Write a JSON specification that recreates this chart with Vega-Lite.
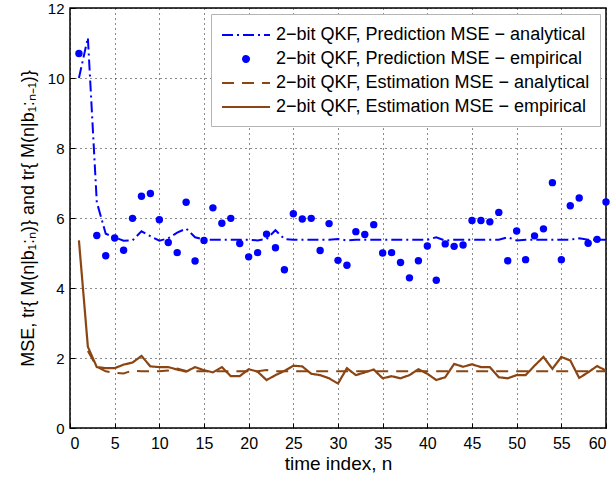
{
  "$schema": "https://vega.github.io/schema/vega-lite/v6.json",
  "width": 536,
  "height": 420,
  "autosize": {"type": "none"},
  "padding": {"left": 70, "top": 8, "right": 9, "bottom": 55},
  "background": "white",
  "config": {
    "font": "Liberation Sans",
    "view": {"stroke": "black", "strokeWidth": 1.5},
    "axis": {
      "labelFont": "Liberation Sans",
      "labelFontSize": 16,
      "labelColor": "black",
      "titleFont": "Liberation Sans",
      "titleFontSize": 18,
      "titleFontWeight": "normal",
      "titleColor": "black",
      "domain": false,
      "grid": true,
      "gridColor": "black",
      "gridDash": [1, 4],
      "gridOpacity": 0.9,
      "gridWidth": 1,
      "ticks": true,
      "tickColor": "black",
      "tickSize": -5,
      "tickWidth": 1
    },
    "legend": {
      "labelFont": "Liberation Sans",
      "labelFontSize": 18,
      "labelColor": "black",
      "labelLimit": 400
    }
  },
  "data": {"values": [
    {"s": "A", "n": 1, "v": 10.0}, {"s": "A", "n": 2, "v": 11.15}, {"s": "A", "n": 3, "v": 6.45}, {"s": "A", "n": 4, "v": 5.55}, {"s": "A", "n": 5, "v": 5.45},
    {"s": "A", "n": 6, "v": 5.35}, {"s": "A", "n": 7, "v": 5.36}, {"s": "A", "n": 8, "v": 5.62}, {"s": "A", "n": 9, "v": 5.48}, {"s": "A", "n": 10, "v": 5.35},
    {"s": "A", "n": 11, "v": 5.42}, {"s": "A", "n": 12, "v": 5.58}, {"s": "A", "n": 13, "v": 5.7}, {"s": "A", "n": 14, "v": 5.45}, {"s": "A", "n": 15, "v": 5.38},
    {"s": "A", "n": 16, "v": 5.38}, {"s": "A", "n": 17, "v": 5.38}, {"s": "A", "n": 18, "v": 5.38}, {"s": "A", "n": 19, "v": 5.38}, {"s": "A", "n": 20, "v": 5.38},
    {"s": "A", "n": 21, "v": 5.36}, {"s": "A", "n": 22, "v": 5.4}, {"s": "A", "n": 23, "v": 5.65}, {"s": "A", "n": 24, "v": 5.4}, {"s": "A", "n": 25, "v": 5.38},
    {"s": "A", "n": 26, "v": 5.38}, {"s": "A", "n": 27, "v": 5.38}, {"s": "A", "n": 28, "v": 5.38}, {"s": "A", "n": 29, "v": 5.38}, {"s": "A", "n": 30, "v": 5.4},
    {"s": "A", "n": 31, "v": 5.36}, {"s": "A", "n": 32, "v": 5.38}, {"s": "A", "n": 33, "v": 5.38}, {"s": "A", "n": 34, "v": 5.38}, {"s": "A", "n": 35, "v": 5.38},
    {"s": "A", "n": 36, "v": 5.38}, {"s": "A", "n": 37, "v": 5.38}, {"s": "A", "n": 38, "v": 5.38}, {"s": "A", "n": 39, "v": 5.38}, {"s": "A", "n": 40, "v": 5.38},
    {"s": "A", "n": 41, "v": 5.45}, {"s": "A", "n": 42, "v": 5.35}, {"s": "A", "n": 43, "v": 5.38}, {"s": "A", "n": 44, "v": 5.38}, {"s": "A", "n": 45, "v": 5.38},
    {"s": "A", "n": 46, "v": 5.38}, {"s": "A", "n": 47, "v": 5.38}, {"s": "A", "n": 48, "v": 5.38}, {"s": "A", "n": 49, "v": 5.45}, {"s": "A", "n": 50, "v": 5.36},
    {"s": "A", "n": 51, "v": 5.38}, {"s": "A", "n": 52, "v": 5.38}, {"s": "A", "n": 53, "v": 5.38}, {"s": "A", "n": 54, "v": 5.38}, {"s": "A", "n": 55, "v": 5.38},
    {"s": "A", "n": 56, "v": 5.38}, {"s": "A", "n": 57, "v": 5.42}, {"s": "A", "n": 58, "v": 5.38}, {"s": "A", "n": 59, "v": 5.38}, {"s": "A", "n": 60, "v": 5.38},
    {"s": "B", "n": 1, "v": 10.7}, {"s": "B", "n": 3, "v": 5.5}, {"s": "B", "n": 4, "v": 4.92}, {"s": "B", "n": 5, "v": 5.43},
    {"s": "B", "n": 6, "v": 5.08}, {"s": "B", "n": 7, "v": 5.99}, {"s": "B", "n": 8, "v": 6.62}, {"s": "B", "n": 9, "v": 6.7}, {"s": "B", "n": 10, "v": 5.95},
    {"s": "B", "n": 11, "v": 5.3}, {"s": "B", "n": 12, "v": 5.01}, {"s": "B", "n": 13, "v": 6.45}, {"s": "B", "n": 14, "v": 4.77}, {"s": "B", "n": 15, "v": 5.36},
    {"s": "B", "n": 16, "v": 6.29}, {"s": "B", "n": 17, "v": 5.85}, {"s": "B", "n": 18, "v": 5.99}, {"s": "B", "n": 19, "v": 5.27}, {"s": "B", "n": 20, "v": 4.89},
    {"s": "B", "n": 21, "v": 5.01}, {"s": "B", "n": 22, "v": 5.54}, {"s": "B", "n": 23, "v": 5.15}, {"s": "B", "n": 24, "v": 4.52}, {"s": "B", "n": 25, "v": 6.12},
    {"s": "B", "n": 26, "v": 5.97}, {"s": "B", "n": 27, "v": 5.99}, {"s": "B", "n": 28, "v": 5.07}, {"s": "B", "n": 29, "v": 5.84}, {"s": "B", "n": 30, "v": 4.79},
    {"s": "B", "n": 31, "v": 4.65}, {"s": "B", "n": 32, "v": 5.61}, {"s": "B", "n": 33, "v": 5.53}, {"s": "B", "n": 34, "v": 5.81}, {"s": "B", "n": 35, "v": 5.0},
    {"s": "B", "n": 36, "v": 5.01}, {"s": "B", "n": 37, "v": 4.73}, {"s": "B", "n": 38, "v": 4.29}, {"s": "B", "n": 39, "v": 4.78}, {"s": "B", "n": 40, "v": 5.2},
    {"s": "B", "n": 41, "v": 4.22}, {"s": "B", "n": 42, "v": 5.26}, {"s": "B", "n": 43, "v": 5.19}, {"s": "B", "n": 44, "v": 5.23}, {"s": "B", "n": 45, "v": 5.93},
    {"s": "B", "n": 46, "v": 5.93}, {"s": "B", "n": 47, "v": 5.89}, {"s": "B", "n": 48, "v": 6.16}, {"s": "B", "n": 49, "v": 4.78}, {"s": "B", "n": 50, "v": 5.63},
    {"s": "B", "n": 51, "v": 4.81}, {"s": "B", "n": 52, "v": 5.49}, {"s": "B", "n": 53, "v": 5.69}, {"s": "B", "n": 54, "v": 7.01}, {"s": "B", "n": 55, "v": 4.81},
    {"s": "B", "n": 56, "v": 6.35}, {"s": "B", "n": 57, "v": 6.57}, {"s": "B", "n": 58, "v": 5.28}, {"s": "B", "n": 59, "v": 5.39}, {"s": "B", "n": 60, "v": 6.46},
    {"s": "C", "n": 2, "v": 2.2}, {"s": "C", "n": 3, "v": 1.75}, {"s": "C", "n": 4, "v": 1.62}, {"s": "C", "n": 5, "v": 1.58},
    {"s": "C", "n": 6, "v": 1.56}, {"s": "C", "n": 7, "v": 1.64}, {"s": "C", "n": 8, "v": 1.62}, {"s": "C", "n": 9, "v": 1.62}, {"s": "C", "n": 10, "v": 1.62},
    {"s": "C", "n": 11, "v": 1.64}, {"s": "C", "n": 12, "v": 1.7}, {"s": "C", "n": 13, "v": 1.63}, {"s": "C", "n": 14, "v": 1.62}, {"s": "C", "n": 15, "v": 1.62},
    {"s": "C", "n": 16, "v": 1.62}, {"s": "C", "n": 17, "v": 1.62}, {"s": "C", "n": 18, "v": 1.62}, {"s": "C", "n": 19, "v": 1.62}, {"s": "C", "n": 20, "v": 1.62},
    {"s": "C", "n": 21, "v": 1.62}, {"s": "C", "n": 22, "v": 1.66}, {"s": "C", "n": 23, "v": 1.62}, {"s": "C", "n": 24, "v": 1.62}, {"s": "C", "n": 25, "v": 1.62},
    {"s": "C", "n": 26, "v": 1.62}, {"s": "C", "n": 27, "v": 1.62}, {"s": "C", "n": 28, "v": 1.62}, {"s": "C", "n": 29, "v": 1.62}, {"s": "C", "n": 30, "v": 1.62},
    {"s": "C", "n": 31, "v": 1.62}, {"s": "C", "n": 32, "v": 1.62}, {"s": "C", "n": 33, "v": 1.62}, {"s": "C", "n": 34, "v": 1.62}, {"s": "C", "n": 35, "v": 1.62},
    {"s": "C", "n": 36, "v": 1.62}, {"s": "C", "n": 37, "v": 1.62}, {"s": "C", "n": 38, "v": 1.62}, {"s": "C", "n": 39, "v": 1.62}, {"s": "C", "n": 40, "v": 1.62},
    {"s": "C", "n": 41, "v": 1.62}, {"s": "C", "n": 42, "v": 1.62}, {"s": "C", "n": 43, "v": 1.62}, {"s": "C", "n": 44, "v": 1.62}, {"s": "C", "n": 45, "v": 1.62},
    {"s": "C", "n": 46, "v": 1.62}, {"s": "C", "n": 47, "v": 1.62}, {"s": "C", "n": 48, "v": 1.62}, {"s": "C", "n": 49, "v": 1.62}, {"s": "C", "n": 50, "v": 1.62},
    {"s": "C", "n": 51, "v": 1.62}, {"s": "C", "n": 52, "v": 1.62}, {"s": "C", "n": 53, "v": 1.62}, {"s": "C", "n": 54, "v": 1.62}, {"s": "C", "n": 55, "v": 1.62},
    {"s": "C", "n": 56, "v": 1.62}, {"s": "C", "n": 57, "v": 1.62}, {"s": "C", "n": 58, "v": 1.62}, {"s": "C", "n": 59, "v": 1.62}, {"s": "C", "n": 60, "v": 1.62},
    {"s": "D", "n": 1, "v": 5.36}, {"s": "D", "n": 2, "v": 2.32}, {"s": "D", "n": 3, "v": 1.74}, {"s": "D", "n": 4, "v": 1.71}, {"s": "D", "n": 5, "v": 1.71},
    {"s": "D", "n": 6, "v": 1.81}, {"s": "D", "n": 7, "v": 1.87}, {"s": "D", "n": 8, "v": 2.06}, {"s": "D", "n": 9, "v": 1.76}, {"s": "D", "n": 10, "v": 1.74},
    {"s": "D", "n": 11, "v": 1.74}, {"s": "D", "n": 12, "v": 1.67}, {"s": "D", "n": 13, "v": 1.61}, {"s": "D", "n": 14, "v": 1.74}, {"s": "D", "n": 15, "v": 1.65},
    {"s": "D", "n": 16, "v": 1.59}, {"s": "D", "n": 17, "v": 1.74}, {"s": "D", "n": 18, "v": 1.48}, {"s": "D", "n": 19, "v": 1.48}, {"s": "D", "n": 20, "v": 1.68},
    {"s": "D", "n": 21, "v": 1.61}, {"s": "D", "n": 22, "v": 1.37}, {"s": "D", "n": 23, "v": 1.51}, {"s": "D", "n": 24, "v": 1.63}, {"s": "D", "n": 25, "v": 1.78},
    {"s": "D", "n": 26, "v": 1.76}, {"s": "D", "n": 27, "v": 1.55}, {"s": "D", "n": 28, "v": 1.51}, {"s": "D", "n": 29, "v": 1.42}, {"s": "D", "n": 30, "v": 1.27},
    {"s": "D", "n": 31, "v": 1.71}, {"s": "D", "n": 32, "v": 1.51}, {"s": "D", "n": 33, "v": 1.59}, {"s": "D", "n": 34, "v": 1.67}, {"s": "D", "n": 35, "v": 1.42},
    {"s": "D", "n": 36, "v": 1.48}, {"s": "D", "n": 37, "v": 1.42}, {"s": "D", "n": 38, "v": 1.51}, {"s": "D", "n": 39, "v": 1.68}, {"s": "D", "n": 40, "v": 1.55},
    {"s": "D", "n": 41, "v": 1.37}, {"s": "D", "n": 42, "v": 1.45}, {"s": "D", "n": 43, "v": 1.83}, {"s": "D", "n": 44, "v": 1.75}, {"s": "D", "n": 45, "v": 1.82},
    {"s": "D", "n": 46, "v": 1.74}, {"s": "D", "n": 47, "v": 1.74}, {"s": "D", "n": 48, "v": 1.45}, {"s": "D", "n": 49, "v": 1.42}, {"s": "D", "n": 50, "v": 1.51},
    {"s": "D", "n": 51, "v": 1.51}, {"s": "D", "n": 52, "v": 1.78}, {"s": "D", "n": 53, "v": 2.03}, {"s": "D", "n": 54, "v": 1.69}, {"s": "D", "n": 55, "v": 2.03},
    {"s": "D", "n": 56, "v": 1.93}, {"s": "D", "n": 57, "v": 1.43}, {"s": "D", "n": 58, "v": 1.59}, {"s": "D", "n": 59, "v": 1.77}, {"s": "D", "n": 60, "v": 1.64}
  ]},
  "encoding": {
    "x": {
      "field": "n", "type": "quantitative",
      "scale": {"domain": [0, 60], "nice": false},
      "axis": {"values": [0, 5, 10, 15, 20, 25, 30, 35, 40, 45, 50, 55, 60], "title": "time index, n", "titleFontSize": 19, "labelPadding": 12, "titlePadding": 3}
    },
    "y": {
      "field": "v", "type": "quantitative",
      "scale": {"domain": [0, 12], "nice": false},
      "axis": {"values": [0, 2, 4, 6, 8, 10, 12], "labelFontSize": 15, "title": "MSE, tr{ M(n|b₁:ₙ)}  and  tr{ M(n|b₁:ₙ₋₁)}", "labelPadding": 11, "titlePadding": 10}
    },
    "color": {
      "field": "s", "type": "nominal",
      "scale": {"domain": ["A", "B", "C", "D"], "range": ["#0000ff", "#0000ff", "#8b4513", "#8b4513"]},
      "legend": {
        "title": null,
        "orient": "top-right",
        "offset": 6,
        "fillColor": "white",
        "strokeColor": "#b4b4b4",
        "padding": 10,
        "rowPadding": 4,
        "labelOffset": 33,
        "symbolSize": 400,
        "symbolStrokeWidth": 2,
        "symbolType": "stroke",
        "labelExpr": "datum.value == 'A' ? '2−bit QKF, Prediction MSE − analytical' : datum.value == 'B' ? '2−bit QKF, Prediction MSE − empirical' : datum.value == 'C' ? '2−bit QKF, Estimation MSE − analytical' : '2−bit QKF, Estimation MSE − empirical'",
        "encode": {
          "symbols": {
            "update": {
              "shape": {"signal": "datum.value == 'B' ? 'M1.1,0A0.3,0.3 0 1,0 1.7,0A0.3,0.3 0 1,0 1.1,0Z' : 'M-1,0H3.8'"},
              "fill": {"signal": "datum.value == 'B' ? '#0000ff' : 'transparent'"},
              "opacity": {"value": 1}
            }
          }
        }
      }
    },
    "strokeDash": {
      "field": "s", "type": "nominal",
      "scale": {"domain": ["A", "B", "C", "D"], "range": [[11, 4, 2, 4], [1, 0], [12, 8], [1, 0]]}
    }
  },
  "layer": [
    {
      "transform": [{"filter": "datum.s == 'A'"}],
      "mark": {"type": "line", "strokeWidth": 2}
    },
    {
      "transform": [{"filter": "datum.s == 'B'"}],
      "mark": {"type": "point", "filled": true, "size": 55, "opacity": 1}
    },
    {
      "transform": [{"filter": "datum.s == 'C'"}],
      "mark": {"type": "line", "strokeWidth": 2}
    },
    {
      "transform": [{"filter": "datum.s == 'D'"}],
      "mark": {"type": "line", "strokeWidth": 2.2}
    }
  ]
}
